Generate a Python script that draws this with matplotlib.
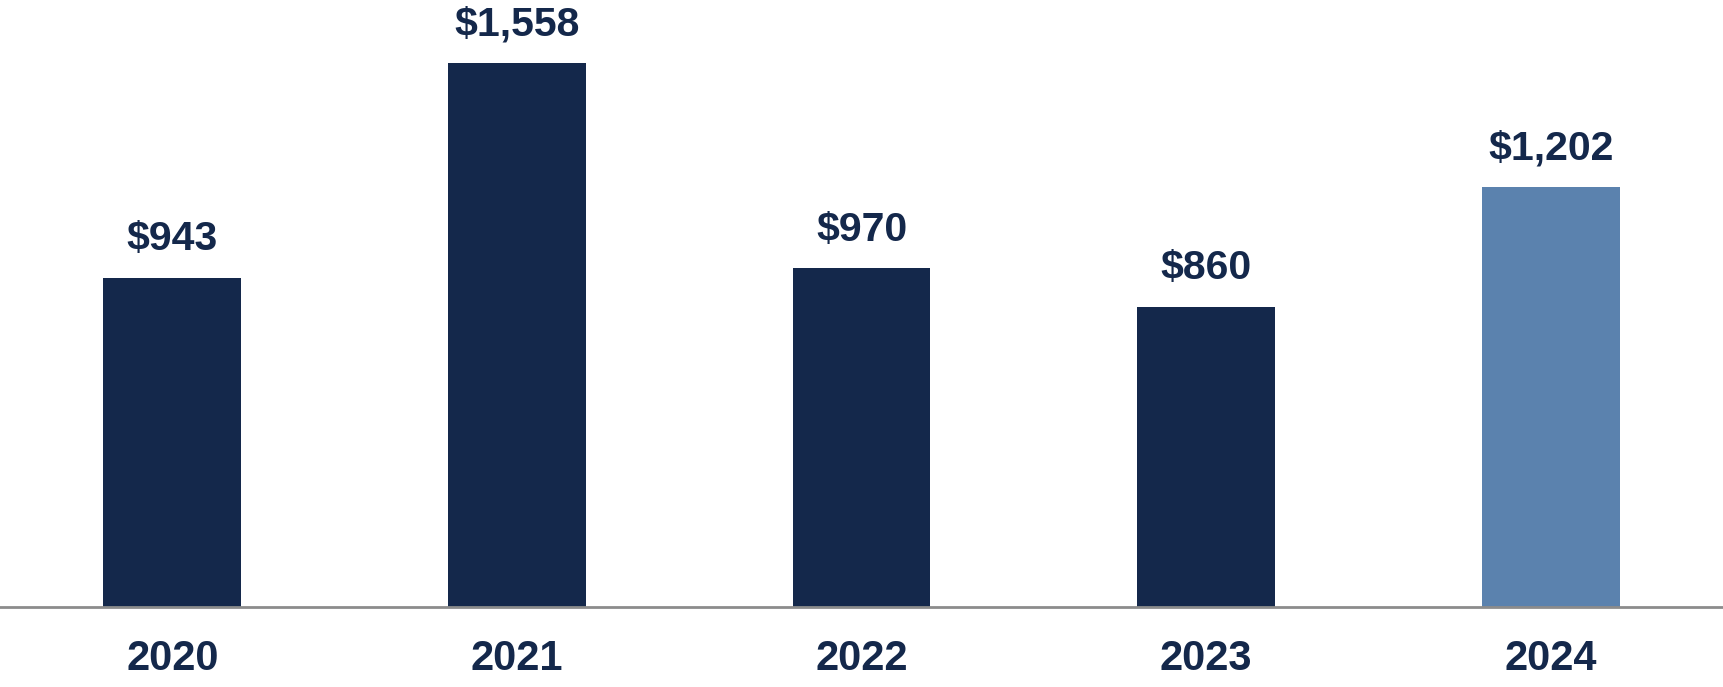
import matplotlib.pyplot as plt
import numpy as np

plt.rcParams['font.family'] = ['Liberation Sans', 'DejaVu Sans']

years = ['2020', '2021', '2022', '2023', '2024']
values = [943, 1558, 970, 860, 1202]
labels = ['$943', '$1,558', '$970', '$860', '$1,202']

navy = '#14284B'
light = '#5B82AE'
colors = [navy, navy, navy, navy, light]

fig = plt.figure(figsize=(17.23, 6.87), dpi=100)
ax = fig.add_axes([0, 80 / 687, 1, 607 / 687])

x = np.arange(len(years))
bars = ax.bar(x, values, width=0.4, color=colors, zorder=2)

for xi, v, lab in zip(x, values, labels):
    ax.annotate(lab, (xi, v), xytext=(0, 20), textcoords='offset points',
                ha='center', va='baseline', fontsize=29.5, fontweight='bold',
                color=navy)

ax.set_xlim(-0.5, 4.5)
ax.set_ylim(0, 1739)
ax.set_xticks(x)
ax.set_xticklabels(years, fontsize=30, fontweight='bold', color=navy)
ax.tick_params(axis='x', length=0, pad=23)
ax.set_yticks([])
for s in ['top', 'left', 'right']:
    ax.spines[s].set_visible(False)
ax.spines['bottom'].set_color('#8C8C8C')
ax.spines['bottom'].set_linewidth(2)

fig.savefig('out.png', dpi=100)
